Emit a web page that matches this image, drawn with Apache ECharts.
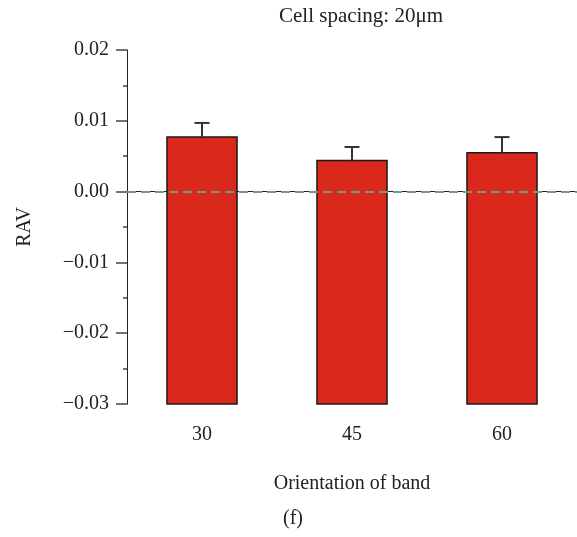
<!DOCTYPE html>
<html>
<head>
<meta charset="utf-8">
<script src="https://cdn.jsdelivr.net/npm/echarts@6/dist/echarts.min.js"></script>
<style>
  html, body { margin: 0; padding: 0; background: #fff; }
  #chart { width: 577px; height: 537px; }
</style>
</head>
<body>
<div id="chart"></div>
<script>
// Band orientation (degrees) on the category axis
const orientations = ['30', '45', '60'];
// Mean RAV for each orientation
const ravMean = [0.0077, 0.0044, 0.0055];
// Upper end of the error bar for each orientation
const ravUpper = [0.0097, 0.0063, 0.0077];
// Value axis range and ticks
const yMin = -0.03;
const yMax = 0.02;
const yStep = 0.01;

const serif = 'Liberation Serif, Times New Roman, serif';
const barRatio = 0.467;

const chart = echarts.init(document.getElementById('chart'), null, { renderer: 'canvas' });

chart.setOption({
  animation: false,
  backgroundColor: '#fff',
  title: {
    text: 'Cell spacing: 20\u03bcm',
    left: 356,
    top: 1,
    textAlign: 'center',
    textStyle: { fontFamily: serif, fontSize: 21, fontWeight: 'normal', color: '#222' }
  },
  grid: { left: 127, right: 0, top: 50, bottom: 133 },
  xAxis: {
    type: 'category',
    data: orientations,
    boundaryGap: true,
    axisLine: { lineStyle: { color: '#222', width: 1 } },
    axisTick: { alignWithLabel: true, length: 10, lineStyle: { color: '#444', width: 1.5 } },
    axisLabel: { fontFamily: serif, fontSize: 20, color: '#222', margin: 21 },
    name: 'Orientation of band',
    nameLocation: 'middle',
    nameGap: 70,
    nameTextStyle: { fontFamily: serif, fontSize: 20, color: '#222' }
  },
  yAxis: {
    type: 'value',
    min: yMin,
    max: yMax,
    interval: yStep,
    axisLine: { show: true, lineStyle: { color: '#222', width: 1 } },
    axisTick: { show: true, length: 11, lineStyle: { color: '#444', width: 1.5 } },
    minorTick: { show: true, splitNumber: 2, length: 4, lineStyle: { color: '#444', width: 1.5 } },
    splitLine: { show: false },
    axisLabel: {
      fontFamily: serif, fontSize: 20, color: '#222', margin: 18,
      formatter: v => (v < 0 ? '\u2212' + Math.abs(v).toFixed(2) : v.toFixed(2))
    },
    name: 'RAV',
    nameLocation: 'middle',
    nameGap: 92,
    nameRotate: 90,
    nameTextStyle: { fontFamily: serif, fontSize: 20, color: '#222' }
  },
  graphic: [{
    type: 'text',
    left: 283,
    top: 509,
    style: { text: '(f)', font: '20px ' + serif, fill: '#222' }
  }],
  series: [
    {
      // bars rising from the bottom of the value axis
      type: 'custom',
      data: ravMean.map((v, i) => [i, v]),
      renderItem: (params, api) => {
        const i = api.value(0);
        const top = api.coord([i, api.value(1)]);
        const base = api.coord([i, yMin]);
        const w = api.size([1, 0])[0] * barRatio;
        return {
          type: 'rect',
          shape: { x: top[0] - w / 2, y: top[1], width: w, height: base[1] - top[1] },
          style: { fill: '#da291c', stroke: '#1a1a1a', lineWidth: 1.5 }
        };
      },
      z: 2
    },
    {
      // upper error bars
      type: 'custom',
      data: ravMean.map((v, i) => [i, v, ravUpper[i]]),
      renderItem: (params, api) => {
        const i = api.value(0);
        const lo = api.coord([i, api.value(1)]);
        const hi = api.coord([i, api.value(2)]);
        const cap = 7.5;
        const style = { stroke: '#333', lineWidth: 2 };
        return {
          type: 'group',
          children: [
            { type: 'line', shape: { x1: lo[0], y1: lo[1], x2: hi[0], y2: hi[1] }, style },
            { type: 'line', shape: { x1: hi[0] - cap, y1: hi[1], x2: hi[0] + cap, y2: hi[1] }, style }
          ]
        };
      },
      z: 3
    },
    {
      // zero reference line
      type: 'line',
      data: [],
      markLine: {
        silent: true,
        symbol: 'none',
        label: { show: false },
        lineStyle: { type: [9, 5], color: '#6f9a84', width: 2 },
        data: [{ yAxis: 0 }]
      },
      z: 5
    }
  ]
});
</script>
</body>
</html>
